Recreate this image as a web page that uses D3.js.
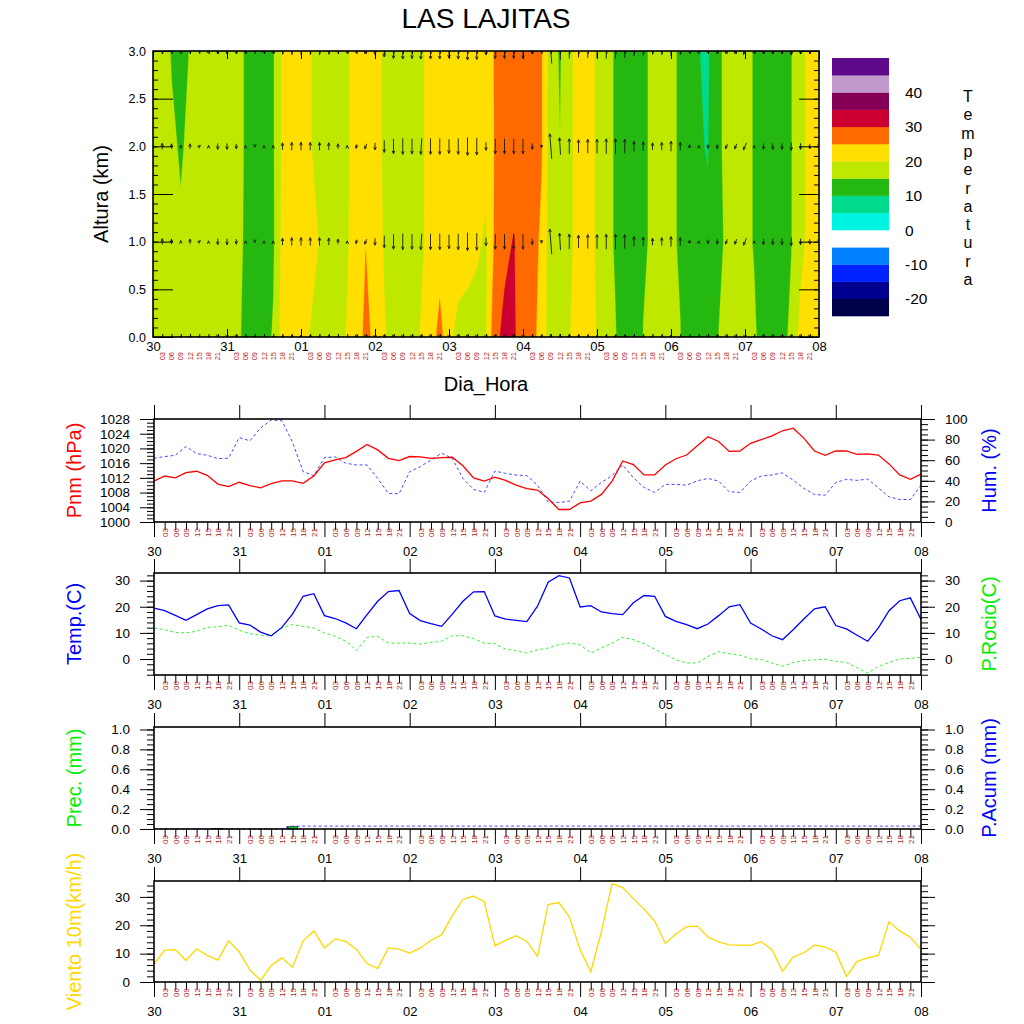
<!DOCTYPE html>
<html><head><meta charset="utf-8">
<script src="https://cdn.jsdelivr.net/npm/d3@7"></script>
<style>
body{margin:0;background:#fff}
text{font-family:"Liberation Sans",Arial,Helvetica,sans-serif}
</style>
</head><body>
<svg id="c" width="1024" height="1024" xmlns="http://www.w3.org/2000/svg"></svg>
<script>
// ---------------- DATA ----------------
const days = ["30","31","01","02","03","04","05","06","07","08"];
const hours = ["03","06","09","12","15","18","21"];
const levelsKm = [0, 1, 2, 3];

// temperature (C) at each 3-hourly step, per height level
const temp0km = [17.5,17.5,17,16.5,17,17.5,17.5,17.5,17,16,
  14,12.5,13,15.5,22,22.5,21.5,19.7,18,18,
  18.5,20.3,23,26,24,20.5,18,17.5,18.5,20.3,
  22,27,21,18.5,18,18.5,19.5,29,31,30.6,
  27.5,26.4,23,17,18,19.8,21.5,21.5,19.8,17,
  15.2,13,12.5,15.1,16.5,17,16.5,15.1,13,11.5,
  11.5,14.8,16.5,17,17,15.5,13.5,12.5,13.5,16,
  21.5,22,22];
const temp1km = [17.5,17,17,15.4,17,17.5,17.5,17.5,17,16.8,
  14.3,12.5,12.5,14.2,21.5,22.5,22.5,22,19.8,17.5,
  18,19.5,22.5,24.9,22.5,19.5,18,17.5,18,19.5,
  21,22,22.5,22.5,22,20.6,19.5,26,29,30.2,
  28,27,24,17,17,19,21.5,21.5,19.5,16.5,
  14.5,12.5,12.5,14.5,15.5,17,15.6,14.6,12,11.5,
  10.6,13,16,17,16,14.75,12.5,12.5,14,14.8,
  18.5,21.5,22];
const temp2km = [17.5,16.5,15.5,14.7,15.6,17,17.5,17.5,17,17,
  14.5,12.5,12.5,14.5,21,22.5,22.5,20.3,18,17.5,
  18,19.5,21.5,22,21.5,19.4,18,17.5,18,19.5,
  21,22,22.5,22.5,22.5,22.5,21,25.5,27.5,28,
  27.5,27.5,25.4,17,15.1,19,21.5,21.5,19.5,16.5,
  14.5,12.5,12.5,14.5,15.5,17,15.6,14.6,11,10.3,
  9.8,14,16,17,16,14.75,12.5,12.5,14,14.8,
  18.5,21.5,22];
const temp3km = [17.5,16.5,14.8,13.5,15.2,17,17.5,17.5,17,17,
  14.5,12.5,12.5,14.5,21,22.5,22.5,20.3,18,17.5,
  18,19.5,21.5,22,21.5,19.4,18,17.5,18,19.5,
  21,22,22.5,22.5,22.5,22.5,22.5,25.5,27.5,28,
  27.5,27.5,25.4,17,14.5,19,21.5,21.5,19.5,16.5,
  14.5,12.5,12.5,14.5,15.5,17,15.6,14.6,11,10.1,
  9.2,14,16,17,16,14.75,12.5,12.5,14,14.8,
  18.5,21.5,22];
const tempThresholds = [-25,-20,-15,-10,-5,0,5,10,15,20,25,30,35,40,45];
const tempColors = ["#00004a","#000090","#0022ff","#0080ff","#ffffff","#00f5e1","#00da8c",
  "#24b811","#bfe800","#ffdf00","#ff6a00","#cc0030","#850057","#c098cc","#5e0a8a"];
const legendLabels = [-20,-10,0,10,20,30,40];

// wind vectors (m/s): v = north component, u = east component
const windVSfc = [2,2,2,1,2,1,0,-1,-1,-1,
  0,0,0,0,3,4,4,4,3,3,
  2,0,-1,-2,-2,-1,-1,-1,-1,-1,
  -1,-1,-1,-1,-1,-1,-1,-1,-1,-1,
  -1,3,4,5,5,5,4,3,3,4,
  4,4,3,3,3,3,4,2,1,0,
  -1,-1,-1,-1,-1,0,-1,-1,-1,-1,
  -1,-1,0];
const windVAloft = [3,6,5,2,5,2,1,-6,-6,-5,
  1,-1,1,1,7,8,8,8,8,7,
  5,1,-4,-5,-7,-12,-15,-16,-15,-16,
  -16,-16,-14,-16,-18,-17,-8,-15,-15,-15,
  -15,-6,-3,25,17,15,13,14,14,15,
  15,14,10,9,7,8,10,8,3,1,
  -4,-5,-5,-5,-7,1,-6,-6,-6,-8,
  -6,-5,-2];
const windUAloft = [0,0,0,0,0,2,0,0,0,0,
  0,0,0,0,0,0,0,0,0,0,
  0,0,-1,-2,0,0,0,0,0,-1,
  0,0,0,0,0,0,0,0,0,0,
  0,0,0,-2,-1,0,0,0,0,0,
  0,0,0,0,0,0,0,0,0,0,
  0,0,-2,-2,-3,0,0,0,0,0,
  0,0,0];

// surface series, 3-hourly
const pnm = [1011.1,1012.5,1012.0,1013.4,1013.8,1012.7,1010.3,1009.6,1010.8,1009.9,
  1009.3,1010.4,1011.2,1011.2,1010.5,1012.5,1016.1,1016.9,1017.5,1019.2,
  1021.1,1019.6,1017.3,1016.7,1017.8,1017.7,1017.3,1017.5,1017.6,1015.3,
  1012.0,1011.1,1012.2,1011.3,1010.0,1009.1,1008.7,1006.4,1003.4,1003.4,
  1005.2,1005.7,1007.5,1011.1,1016.6,1015.6,1012.8,1012.8,1015.5,1017.2,
  1018.2,1020.7,1023.2,1021.9,1019.2,1019.3,1021.4,1022.4,1023.4,1024.8,
  1025.5,1022.8,1019.3,1018.1,1019.3,1019.3,1018.4,1018.5,1018.2,1015.8,
  1012.8,1011.6,1013.0];
const hum = [61.9,63.5,64.8,73.3,66.4,64.8,61.6,61.9,82,78.8,
  91.2,99,98.4,77.5,48.9,45,62.5,63.2,57,55.4,
  55.4,42.3,27.7,27.4,48.9,53.7,60.3,66.8,61.9,42.3,
  31.6,28.7,49.5,47.2,45.6,45,35.8,19.5,18.9,20.2,
  39.7,30.3,38.4,45,55.4,43,33.6,28.7,36.5,36.5,
  35.8,40,42.3,39.7,29.3,28.7,39.7,44.6,45.6,47.6,
  40.7,32.6,26.7,26,38.4,41.4,40.4,41.7,33.2,24.4,
  21.8,21.8,35.8];
const tempSfc = [19.5,18.5,16.7,14.8,17,19.2,20.4,20.7,13.8,13,
  10.3,8.9,12.1,17.2,24,25,16.6,15.5,13.8,11.6,
  17,22.1,25.8,26.2,17.4,14.7,13.5,12.5,17.2,22.1,
  25.7,25.8,16.5,15.3,14.8,14.3,20.2,29.4,31.9,31,
  19.9,20.4,18,17.4,17,21.5,24.3,24,16.3,14.4,
  13.2,11.6,13.4,16.6,20,20.8,13.8,11.5,8.9,7.4,
  11.2,15.3,19.2,20,12.8,11.5,9.1,6.8,11.9,18.5,
  22.3,23.4,15.1];
const dewPoint = [11.9,11.2,10.2,10,10.6,12.1,12.3,12.9,11,9.7,
  9.1,8.8,11.9,13.2,12.5,11.9,10,8.7,6.8,3.3,
  8.3,8.7,6.1,6.1,6.1,5.7,6.4,6.8,8.9,8.9,
  7.8,6.1,5.9,3.8,3.2,2.3,3.5,4.2,5.5,6.1,
  5.5,2.3,4.2,6.1,8.3,7.4,5.9,3.8,1.7,-0.3,
  -1.5,-1.5,1,2.8,2,1.5,0.1,-0.1,-1.5,-2.8,
  -1.3,-0.6,-0.3,0,-0.9,-1.3,-3.4,-5.4,-2.8,-1.3,
  0,0.3,0.6];
const prec = [0,0,0,0,0,0,0.003,0,0,0,
  0,0,0,0.026,0,0,0,0,0,0,
  0,0,0,0,0,0,0,0,0,0,
  0,0,0,0,0,0,0,0,0,0,
  0,0,0,0,0,0,0,0,0,0,
  0,0,0,0,0,0,0,0,0,0,
  0,0,0,0,0,0,0,0,0,0,
  0,0,0];
const precAcum = [0,0,0,0,0,0,0.003,0.003,0.003,0.003,
  0.003,0.003,0.003,0.029,0.029,0.029,0.029,0.029,0.029,0.029,
  0.029,0.029,0.029,0.029,0.029,0.029,0.029,0.029,0.029,0.029,
  0.029,0.029,0.029,0.029,0.029,0.029,0.029,0.029,0.029,0.029,
  0.029,0.029,0.029,0.029,0.029,0.029,0.029,0.029,0.029,0.029,
  0.029,0.029,0.029,0.029,0.029,0.029,0.029,0.029,0.029,0.029,
  0.029,0.029,0.029,0.029,0.029,0.029,0.029,0.029,0.029,0.029,
  0.029,0.029,0.029];
const wind10m = [6.2,11.2,11.4,7.6,11.7,9.4,7.7,14.5,10.6,4.3,
  0.6,5.8,8.5,5.2,14.5,18,12,15.2,14.3,11.5,
  6.5,4.7,12,11.6,10.2,12,14.7,16.6,23.4,29.1,
  30.3,28.3,12.8,14.7,16.3,14.3,9,27.3,28,22.8,
  11.4,3.6,17.8,34.7,33.3,29.4,25.7,21.5,13.6,17,
  19.5,19.7,15.9,14.1,13.1,13,12.9,14.2,11.5,3.8,
  8.8,10.3,13,12.4,10.5,2,7.3,8.5,9.4,21.2,
  18,15.8,11.4];

const altTicks = [0,0.5,1,1.5,2,2.5,3];
const pnmTicks = [1000,1004,1008,1012,1016,1020,1024,1028];
const humTicks = [0,20,40,60,80,100];
const tempTicks = [0,10,20,30];
const precTicks = [0,0.2,0.4,0.6,0.8,1.0];
const windTicks = [0,10,20,30];

// ---------------- DRAWING ----------------
const svg = d3.select("#c");
const nT = pnm.length;                 // 73 steps
const idx = d3.range(nT);
const dayIdx = days.map((d, k) => k * 8);
const minorIdx = idx.filter(i => i % 8 !== 0);
const HOURCOL = "#b22222";

function styleAxis(g, fs) {
  g.select(".domain").remove();
  g.selectAll("line").attr("stroke", "#000").attr("stroke-width", 1);
  g.selectAll("text").attr("fill", "#000").attr("font-size", fs)
    .attr("font-family", '"Liberation Sans", Arial, sans-serif');
}

// ===== Panel 1: height-time temperature section =====
const X0 = 153, X1 = 819, Y0 = 51, Y1 = 337;
const xT = d3.scaleLinear().domain([0, nT - 1]).range([X0, X1]);
const yT = d3.scaleLinear().domain([0, 3]).range([Y1, Y0]);

svg.append("defs").append("clipPath").attr("id", "clipTop")
  .append("rect").attr("x", X0).attr("y", Y0).attr("width", X1 - X0).attr("height", Y1 - Y0);

const levelRows = [temp0km, temp1km, temp2km, temp3km];
const grid = [].concat(...levelRows);
const contours = d3.contours().size([nT, levelsKm.length]).thresholds(tempThresholds)(grid);
const lvl = d3.scaleLinear().domain([0, levelsKm.length - 1]).range([levelsKm[0], levelsKm[levelsKm.length - 1]]);
const proj = d3.geoTransform({ point(x, y) { this.stream.point(xT(x - 0.5), yT(lvl(y - 0.5))); } });
const gpath = d3.geoPath(proj);
const gTop = svg.append("g").attr("clip-path", "url(#clipTop)");
gTop.selectAll("path.band").data(contours).join("path").attr("class", "band")
  .attr("d", gpath)
  .attr("fill", d => tempColors[tempThresholds.indexOf(d.value)])
  .attr("stroke", d => tempColors[tempThresholds.indexOf(d.value)]).attr("stroke-width", 0.3);

// wind arrows
const gArr = gTop.append("g").attr("stroke", "#1a1a1a").attr("stroke-width", 0.9).attr("fill", "none");
levelsKm.forEach((h, li) => {
  idx.forEach(i => {
    const v = li === 0 ? windVSfc[i] : windVAloft[i];
    const u = li === 0 ? 0 : windUAloft[i];
    const cx = xT(i), cy = yT(h);
    let L = Math.hypot(u, v);
    let dx, dy;
    if (L < 0.5) { dx = 0; dy = -1; L = 1.2; } else { dx = u / L; dy = -v / L; L = Math.max(L, 1.5); }
    const x1 = cx - dx * L / 2, y1 = cy - dy * L / 2, x2 = cx + dx * L / 2, y2 = cy + dy * L / 2;
    const ah = 3.2, ang = 0.42;
    const bx = -dx, by = -dy;
    const hx1 = x2 + ah * (bx * Math.cos(ang) - by * Math.sin(ang));
    const hy1 = y2 + ah * (bx * Math.sin(ang) + by * Math.cos(ang));
    const hx2 = x2 + ah * (bx * Math.cos(-ang) - by * Math.sin(-ang));
    const hy2 = y2 + ah * (bx * Math.sin(-ang) + by * Math.cos(-ang));
    gArr.append("path").attr("d", `M${x1},${y1}L${x2},${y2}M${hx1},${hy1}L${x2},${y2}L${hx2},${hy2}`);
  });
});

// top-panel axes (ticks inward)
{
  const g = svg.append("g");
  const minorAlt = d3.range(0, 3.001, 0.1);
  styleAxis(g.append("g").attr("transform", `translate(${X0},0)`)
    .call(d3.axisLeft(yT).tickValues(minorAlt).tickSize(-5).tickFormat("")), 12);
  styleAxis(g.append("g").attr("transform", `translate(${X0},0)`)
    .call(d3.axisLeft(yT).tickValues(altTicks).tickSize(-20).tickPadding(7).tickFormat(d3.format(".1f"))), 12.5);
  styleAxis(g.append("g").attr("transform", `translate(${X1},0)`)
    .call(d3.axisRight(yT).tickValues(minorAlt).tickSize(-5).tickFormat("")), 12);
  styleAxis(g.append("g").attr("transform", `translate(${X1},0)`)
    .call(d3.axisRight(yT).tickValues(altTicks).tickSize(-20).tickFormat("")), 12);
  styleAxis(g.append("g").attr("transform", `translate(0,${Y1})`)
    .call(d3.axisBottom(xT).tickValues(minorIdx).tickSize(-3).tickFormat("")), 12);
  styleAxis(g.append("g").attr("transform", `translate(0,${Y1})`)
    .call(d3.axisBottom(xT).tickValues(dayIdx).tickSize(-8).tickPadding(5).tickFormat((d, k) => days[k])), 13);
  styleAxis(g.append("g").attr("transform", `translate(0,${Y0})`)
    .call(d3.axisTop(xT).tickValues(minorIdx).tickSize(-3).tickFormat("")), 12);
  styleAxis(g.append("g").attr("transform", `translate(0,${Y0})`)
    .call(d3.axisTop(xT).tickValues(dayIdx).tickSize(-8).tickFormat("")), 12);
  g.selectAll("text.hr").data(minorIdx).join("text").attr("class", "hr")
    .attr("transform", i => `translate(${xT(i)},${Y1 + 15}) rotate(-90)`)
    .attr("text-anchor", "end").attr("dy", "0.35em").attr("font-size", 7.5).attr("fill", HOURCOL)
    .text(i => hours[(i % 8) - 1]);
  g.append("rect").attr("x", X0).attr("y", Y0).attr("width", X1 - X0).attr("height", Y1 - Y0)
    .attr("fill", "none").attr("stroke", "#000").attr("stroke-width", 1.6);
}

svg.append("text").attr("x", 486).attr("y", 28).attr("text-anchor", "middle").attr("font-size", 28).text("LAS LAJITAS");
svg.append("text").attr("x", 486).attr("y", 391).attr("text-anchor", "middle").attr("font-size", 20).text("Dia_Hora");
svg.append("text").attr("transform", `translate(108,${(Y0 + Y1) / 2}) rotate(-90)`)
  .attr("text-anchor", "middle").attr("font-size", 20).text("Altura (km)");

// legend
{
  const yL = d3.scaleLinear().domain([-25, 50]).range([316, 58]);
  const g = svg.append("g");
  g.selectAll("rect").data(tempThresholds).join("rect")
    .attr("x", 832).attr("width", 57)
    .attr("y", d => yL(d + 5)).attr("height", d => yL(d) - yL(d + 5) + 0.3)
    .attr("fill", (d, k) => tempColors[k]);
  g.selectAll("text").data(legendLabels).join("text")
    .attr("x", 905).attr("y", d => yL(d)).attr("dy", "0.36em").attr("font-size", 15.5).text(d => d);
  const word = "Temperatura".split("");
  svg.append("g").selectAll("text").data(word).join("text")
    .attr("x", 968).attr("y", (d, k) => 102 + k * 18.3).attr("text-anchor", "middle")
    .attr("font-size", 16).text(d => d);
}

// ===== Lower panels =====
const XB0 = 154, XB1 = 921;
const xB = d3.scaleLinear().domain([0, nT - 1]).range([XB0, XB1]);

function panel(cfg) {
  const { top, bot } = cfg;
  const g = svg.append("g");
  const yL = d3.scaleLinear().domain(cfg.leftDomain).range([bot, top]);
  const yR = d3.scaleLinear().domain(cfg.rightDomain || cfg.leftDomain).range([bot, top]);
  cfg.draw(g, yL, yR);
  // x axes
  styleAxis(g.append("g").attr("transform", `translate(0,${bot})`)
    .call(d3.axisBottom(xB).tickValues(minorIdx).tickSize(8).tickFormat("")), 12);
  styleAxis(g.append("g").attr("transform", `translate(0,${bot})`)
    .call(d3.axisBottom(xB).tickValues(dayIdx).tickSize(15).tickPadding(9.5).tickFormat((d, k) => days[k])), 13);
  styleAxis(g.append("g").attr("transform", `translate(0,${top})`)
    .call(d3.axisTop(xB).tickValues(dayIdx).tickSize(14).tickFormat("")), 12);
  g.selectAll("text.hr").data(minorIdx).join("text").attr("class", "hr")
    .attr("transform", i => `translate(${xB(i) + 0.5},${bot + 6}) rotate(-90)`)
    .attr("text-anchor", "end").attr("dy", "0.35em").attr("font-size", 8).attr("fill", HOURCOL)
    .text(i => hours[(i % 8) - 1]);
  // y axes
  styleAxis(g.append("g").attr("transform", `translate(${XB0},0)`)
    .call(d3.axisLeft(yL).tickValues(cfg.leftMinor).tickSize(7).tickFormat("")), 12);
  styleAxis(g.append("g").attr("transform", `translate(${XB0},0)`)
    .call(d3.axisLeft(yL).tickValues(cfg.leftTicks).tickSize(14).tickPadding(10).tickFormat(cfg.leftFmt)), 13.5);
  styleAxis(g.append("g").attr("transform", `translate(${XB1},0)`)
    .call(d3.axisRight(yR).tickValues(cfg.rightMinor || cfg.leftMinor).tickSize(7).tickFormat("")), 12);
  styleAxis(g.append("g").attr("transform", `translate(${XB1},0)`)
    .call(d3.axisRight(yR).tickValues(cfg.rightTicks || cfg.leftTicks).tickSize(14).tickPadding(10)
      .tickFormat(cfg.rightTitle ? (cfg.rightFmt || cfg.leftFmt) : "")), 13.5);
  g.append("rect").attr("x", XB0).attr("y", top).attr("width", XB1 - XB0).attr("height", bot - top)
    .attr("fill", "none").attr("stroke", "#000").attr("stroke-width", 1.6);
  const mid = (top + bot) / 2;
  g.append("text").attr("transform", `translate(81,${mid}) rotate(-90)`).attr("text-anchor", "middle")
    .attr("font-size", 20).attr("fill", cfg.leftColor).text(cfg.leftTitle);
  if (cfg.rightTitle) {
    g.append("text").attr("transform", `translate(996,${mid}) rotate(-90)`).attr("text-anchor", "middle")
      .attr("font-size", 20).attr("fill", cfg.rightColor).text(cfg.rightTitle);
  }
}

const lineOf = (y) => d3.line().x((d, i) => xB(i)).y(d => y(d));

panel({
  top: 419, bot: 522, leftDomain: [1000, 1028], rightDomain: [0, 100],
  leftTicks: pnmTicks, leftMinor: d3.range(1000, 1028.5, 1), leftFmt: d3.format("d"),
  rightTicks: humTicks, rightMinor: d3.range(0, 100.5, 5), rightFmt: d3.format("d"),
  leftTitle: "Pnm (hPa)", leftColor: "#ff0000", rightTitle: "Hum. (%)", rightColor: "#0000ff",
  draw(g, yL, yR) {
    g.append("path").attr("d", lineOf(yR)(hum)).attr("fill", "none").attr("stroke", "#3333ff")
      .attr("stroke-width", 0.9).attr("stroke-dasharray", "3,2.5");
    g.append("path").attr("d", lineOf(yL)(pnm)).attr("fill", "none").attr("stroke", "#ff0000").attr("stroke-width", 1.3);
  }
});

panel({
  top: 573, bot: 675, leftDomain: [-6.1, 32.9],
  leftTicks: tempTicks, leftMinor: d3.range(-6, 32.5, 2), leftFmt: d3.format("d"),
  leftTitle: "Temp.(C)", leftColor: "#0000ff", rightTitle: "P.Rocio(C)", rightColor: "#00ee00",
  draw(g, yL) {
    g.append("path").attr("d", lineOf(yL)(dewPoint)).attr("fill", "none").attr("stroke", "#22ee22")
      .attr("stroke-width", 0.9).attr("stroke-dasharray", "3,2.5");
    g.append("path").attr("d", lineOf(yL)(tempSfc)).attr("fill", "none").attr("stroke", "#0000ff").attr("stroke-width", 1.3);
  }
});

panel({
  top: 727, bot: 829, leftDomain: [0, 1.025],
  leftTicks: precTicks, leftMinor: d3.range(0, 1.01, 0.05), leftFmt: d3.format(".1f"),
  leftTitle: "Prec. (mm)", leftColor: "#00ee00", rightTitle: "P.Acum (mm)", rightColor: "#0000ff",
  draw(g, yL, yR) {
    const bars = idx.filter(i => prec[i] > 0);
    g.selectAll("rect.bar").data(bars).join("rect").attr("class", "bar")
      .attr("x", i => xB(i - 0.5)).attr("width", i => xB(i + 0.5) - xB(i - 0.5))
      .attr("y", i => yL(prec[i])).attr("height", i => yL(0) - yL(prec[i]))
      .attr("fill", "#00cc00").attr("stroke", "#000").attr("stroke-width", 0.5);
    g.append("path").attr("d", lineOf(yR)(precAcum)).attr("fill", "none").attr("stroke", "#3333ff")
      .attr("stroke-width", 0.9).attr("stroke-dasharray", "3,2.5");
  }
});

panel({
  top: 881, bot: 982, leftDomain: [0, 35.6],
  leftTicks: windTicks, leftMinor: d3.range(0, 35, 2), leftFmt: d3.format("d"),
  leftTitle: "Viento 10m(km/h)", leftColor: "#ffd700",
  draw(g, yL) {
    g.append("path").attr("d", lineOf(yL)(wind10m)).attr("fill", "none").attr("stroke", "#ffd700").attr("stroke-width", 1.3);
  }
});
</script>
</body></html>
